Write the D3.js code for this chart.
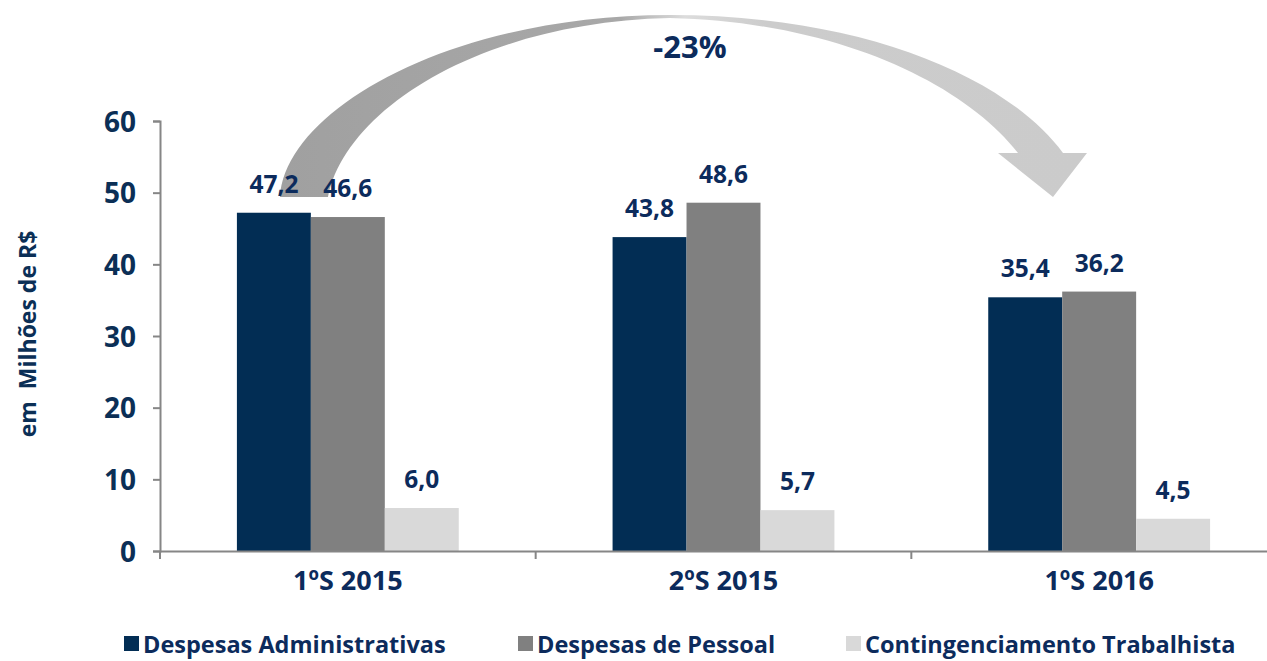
<!DOCTYPE html>
<html>
<head>
<meta charset="utf-8">
<script src="https://cdn.jsdelivr.net/npm/d3@7"></script>
<style>
  body { margin: 0; background: #fff; }
  text { font-family: "Open Sans", sans-serif; font-weight: 700; }
</style>
</head>
<body>
<script>
'use strict';

// chart data
const categories = ["1ºS 2015", "2ºS 2015", "1ºS 2016"]
const seriesNames = ["Despesas Administrativas", "Despesas de Pessoal", "Contingenciamento Trabalhista"]
const administrativas = [47.2, 43.8, 35.4]
const pessoal = [46.6, 48.6, 36.2]
const contingenciamento = [6.0, 5.7, 4.5]
const yTicks = [0, 10, 20, 30, 40, 50, 60]
const variationLabel = "-23%"

const colors = ["#022d54", "#808080", "#d9d9d9"]
const navy = "#0c2b5c"

const m = {
  width: 1267,
  height: 661,
  left: 160,
  right: 1287,
  top: 121,
  bottom: 551
}

const svg = d3.select('body')
  .append('svg')
  .attr('width', m.width)
  .attr('height', m.height)

// rows: one per category, values per series
const rows = categories.map((c, i) => ({
  cat: c,
  vals: [administrativas[i], pessoal[i], contingenciamento[i]]
}))

const yScale = d3.scaleLinear()
  .domain([0, 60])
  .range([m.bottom, m.top])

const xScale = d3.scaleBand()
  .domain(categories)
  .range([m.left, m.right])
  .padding(0)

const xInner = d3.scaleBand()
  .domain(d3.range(seriesNames.length))
  .range([0, xScale.bandwidth()])
  .paddingInner(0)
  .paddingOuter(1.04)

// curved arrow (drawn first so labels sit on top)
const defs = svg.append('defs')
const grad = defs.append('linearGradient')
  .attr('id', 'arrowGrad')
  .attr('gradientUnits', 'userSpaceOnUse')
  .attr('x1', 280).attr('y1', 0)
  .attr('x2', 1090).attr('y2', 0)
grad.append('stop').attr('offset', '0').attr('stop-color', '#a0a0a0')
grad.append('stop').attr('offset', '0.42').attr('stop-color', '#a8a8a8')
grad.append('stop').attr('offset', '0.5').attr('stop-color', '#dcdcdc')
grad.append('stop').attr('offset', '0.6').attr('stop-color', '#cccccc')
grad.append('stop').attr('offset', '1').attr('stop-color', '#cbcbcb')

const arrow = d3.path()
arrow.moveTo(280, 197)
arrow.bezierCurveTo(285, 110, 450, 15, 670, 15)
arrow.bezierCurveTo(860, 15, 1005, 75, 1063, 153)
arrow.lineTo(1087, 153)
arrow.lineTo(1053, 197)
arrow.lineTo(998, 153)
arrow.lineTo(1018, 153)
arrow.bezierCurveTo(965, 85, 840, 22, 670, 18)
arrow.bezierCurveTo(480, 22, 345, 110, 328, 197)
arrow.closePath()

svg.append('path')
  .attr('d', arrow.toString())
  .attr('fill', 'url(#arrowGrad)')

svg.append('text')
  .attr('x', 690)
  .attr('y', 58)
  .attr('text-anchor', 'middle')
  .style('font-size', '31px')
  .style('fill', navy)
  .text(variationLabel)

// y axis
const yAxis = d3.axisLeft(yScale)
  .tickValues(yTicks)
  .tickSize(7)
  .tickFormat(d3.format('d'))
const gy = svg.append('g')
  .attr('transform', 'translate(' + m.left + ',0)')
  .call(yAxis)
gy.select('.domain').attr('stroke', '#868686').attr('stroke-width', 2)
gy.selectAll('.tick line').attr('stroke', '#868686').attr('stroke-width', 2)
gy.selectAll('.tick text')
  .attr('x', -24)
  .attr('dy', '0.36em')
  .style('font-size', '28px')
  .style('fill', '#0b2f56')

// bars
const groups = svg.selectAll('.group')
  .data(rows)
  .enter()
  .append('g')
  .attr('class', 'group')
  .attr('transform', d => 'translate(' + xScale(d.cat) + ',0)')

groups.selectAll('rect')
  .data(d => d.vals)
  .enter()
  .append('rect')
  .attr('x', (d, i) => xInner(i))
  .attr('y', d => yScale(d))
  .attr('width', xInner.bandwidth())
  .attr('height', d => yScale(0) - yScale(d))
  .attr('fill', (d, i) => colors[i])

groups.selectAll('.val')
  .data(d => d.vals)
  .enter()
  .append('text')
  .attr('class', 'val')
  .attr('x', (d, i) => xInner(i) + xInner.bandwidth() / 2)
  .attr('y', d => yScale(d) - 20)
  .attr('text-anchor', 'middle')
  .style('font-size', '24.5px')
  .style('fill', navy)
  .text(d => d3.format('.1f')(d).replace('.', ','))

// x axis
const xAxis = d3.axisBottom(xScale).tickSize(0).tickFormat(d => d)
const gx = svg.append('g')
  .attr('transform', 'translate(0,' + m.bottom + ')')
  .call(xAxis)
gx.select('.domain').attr('stroke', '#868686').attr('stroke-width', 2)
gx.selectAll('.tick text')
  .attr('y', 39)
  .attr('dy', 0)
  .style('font-size', '27px')
  .style('fill', navy)

// category separators on x axis
gx.selectAll('.sep')
  .data(categories)
  .enter()
  .append('line')
  .attr('class', 'sep')
  .attr('x1', d => xScale(d))
  .attr('x2', d => xScale(d))
  .attr('y1', 0)
  .attr('y2', 8)
  .attr('stroke', '#868686')
  .attr('stroke-width', 2)

// y title
svg.append('text')
  .attr('transform', 'translate(36, 334)rotate(-90)')
  .attr('text-anchor', 'middle')
  .style('font-size', '23px')
  .style('white-space', 'pre')
  .style('fill', '#0b2f56')
  .text('em  Milhões de R$')

// legend
const legendX = [124, 518, 846]
const legend = svg.selectAll('.legend')
  .data(seriesNames)
  .enter()
  .append('g')
  .attr('class', 'legend')
  .attr('transform', (d, i) => 'translate(' + legendX[i] + ',636)')

legend.append('rect')
  .attr('width', 15)
  .attr('height', 15)
  .attr('fill', (d, i) => colors[i])

legend.append('text')
  .attr('x', 19)
  .attr('y', 17)
  .style('font-size', '23.5px')
  .style('fill', navy)
  .text(d => d)
</script>
</body>
</html>
